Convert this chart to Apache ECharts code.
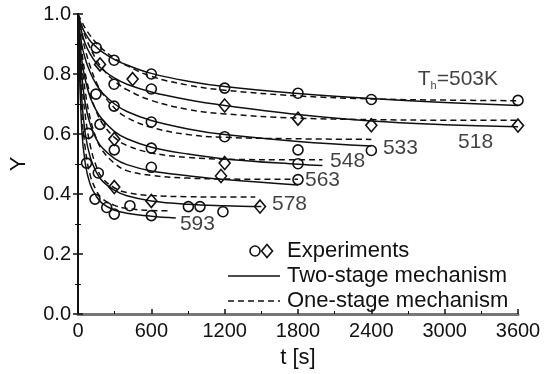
<!DOCTYPE html>
<html>
<head>
<meta charset="utf-8">
<script src="https://cdn.jsdelivr.net/npm/echarts@6/dist/echarts.min.js"></script>
<style>
  html, body { margin: 0; background: #fff; }
  #chart { width: 545px; height: 374px; }
</style>
</head>
<body>
<div id="chart"></div>
<script>
// temperatures (K) of the curves
const temps = ['503', '518', '533', '548', '563', '578', '593'];

// two-stage mechanism (solid), [t s, Y]
const two503 = [[0,1],[30,0.96],[60,0.935],[100,0.91],[150,0.89],[200,0.873],[300,0.848],[400,0.83],[600,0.802],[900,0.776],[1200,0.758],[1800,0.735],[2400,0.718],[3000,0.705],[3600,0.695]];
const two518 = [[0,1],[30,0.94],[60,0.9],[100,0.866],[150,0.836],[200,0.815],[300,0.786],[400,0.766],[600,0.74],[900,0.714],[1200,0.695],[1800,0.665],[2400,0.643],[3000,0.631],[3600,0.624]];
const two533 = [[0,1],[30,0.9],[60,0.85],[100,0.805],[150,0.765],[200,0.737],[300,0.7],[400,0.675],[600,0.645],[900,0.617],[1200,0.598],[1800,0.575],[2400,0.56]];
const two548 = [[0,1],[30,0.85],[60,0.78],[100,0.722],[150,0.678],[200,0.648],[300,0.608],[400,0.584],[600,0.556],[900,0.533],[1200,0.517],[1800,0.499],[2000,0.495]];
const two563 = [[0,1],[30,0.8],[60,0.7],[100,0.632],[150,0.583],[200,0.553],[300,0.518],[400,0.498],[600,0.477],[900,0.461],[1200,0.448],[1800,0.43]];
const two578 = [[0,1],[30,0.72],[60,0.6],[100,0.523],[150,0.473],[200,0.443],[300,0.412],[400,0.394],[600,0.377],[900,0.366],[1200,0.361],[1500,0.358]];
const two593 = [[0,1],[30,0.62],[60,0.5],[100,0.432],[150,0.392],[200,0.368],[300,0.346],[400,0.336],[600,0.326],[800,0.32]];

// one-stage mechanism (dashed)
const one503 = [[0,1],[30,0.975],[60,0.952],[100,0.928],[150,0.903],[200,0.883],[300,0.852],[400,0.828],[600,0.792],[900,0.763],[1200,0.746],[1800,0.727],[2400,0.717],[3000,0.713],[3600,0.711]];
const one518 = [[0,1],[30,0.96],[60,0.925],[100,0.887],[150,0.848],[200,0.818],[300,0.776],[400,0.748],[600,0.712],[900,0.682],[1200,0.667],[1800,0.653],[2400,0.648],[3000,0.646],[3600,0.646]];
const one533 = [[0,1],[30,0.93],[60,0.88],[100,0.825],[150,0.772],[200,0.735],[300,0.686],[400,0.655],[600,0.622],[900,0.598],[1200,0.589],[1800,0.584],[2400,0.582]];
const one548 = [[0,1],[30,0.88],[60,0.8],[100,0.733],[150,0.675],[200,0.635],[300,0.588],[400,0.562],[600,0.537],[900,0.522],[1200,0.516],[1800,0.514],[2000,0.514]];
const one563 = [[0,1],[30,0.84],[60,0.74],[100,0.652],[150,0.585],[200,0.545],[300,0.502],[400,0.478],[600,0.462],[900,0.453],[1200,0.45],[1800,0.449]];
const one578 = [[0,1],[30,0.78],[60,0.66],[100,0.562],[150,0.492],[200,0.453],[300,0.42],[400,0.405],[600,0.395],[900,0.391],[1200,0.39],[1450,0.39]];
const one593 = [[0,1],[30,0.68],[60,0.55],[100,0.462],[150,0.412],[200,0.384],[300,0.362],[400,0.352],[600,0.345],[750,0.344]];

// experiments
const expCircles = [
  [150,0.887],[295,0.846],[600,0.8],[1200,0.753],[1800,0.736],[2400,0.715],[3600,0.712],
  [295,0.766],[600,0.75],
  [147,0.733],[295,0.693],[600,0.64],[1200,0.591],[1800,0.547],[2400,0.545],
  [84,0.602],[180,0.632],[297,0.547],[600,0.553],[1800,0.501],
  [70,0.503],[166,0.47],[600,0.489],[1800,0.448],
  [139,0.383],[235,0.355],[297,0.333],[425,0.361],[600,0.328],[903,0.358],[998,0.358],[1186,0.341]
];
const expDiamonds = [
  [180,0.832],[447,0.783],[1200,0.695],[1800,0.651],[2400,0.629],[3600,0.628],
  [297,0.583],[1200,0.503],[1170,0.46],
  [297,0.423],[600,0.377],[1489,0.358]
];

// where the temperature labels sit, [t, Y]
const labelAnchors = [[2780,0.783],[3110,0.574],[2495,0.553],[2062,0.51],[1857,0.447],[1587,0.365],[834,0.299]];

const twoStage = [two503, two518, two533, two548, two563, two578, two593];
const oneStage = [one503, one518, one533, one548, one563, one578, one593];

const FONT = '"Liberation Sans", Arial, sans-serif';
const INK = '#111';

const chart = echarts.init(document.getElementById('chart'));

const series = [];
twoStage.forEach((d, i) => {
  series.push({
    name: 'Two-stage ' + temps[i], type: 'line', data: d, smooth: 0.4,
    showSymbol: false, lineStyle: { color: INK, width: 1.5 }, z: 3
  });
});
oneStage.forEach((d, i) => {
  series.push({
    name: 'One-stage ' + temps[i], type: 'line', data: d, smooth: 0.4,
    showSymbol: false, lineStyle: { color: INK, width: 1.5, type: [6, 4] }, z: 3
  });
});
const markerStyle = { color: 'rgba(255,255,255,0)', borderColor: INK, borderWidth: 1.6, opacity: 1 };
series.push({
  name: 'Experiments o', type: 'scatter', data: expCircles, symbol: 'circle', symbolSize: 10,
  itemStyle: markerStyle, z: 4
});
series.push({
  name: 'Experiments d', type: 'scatter', data: expDiamonds, symbol: 'diamond', symbolSize: [11, 13],
  itemStyle: markerStyle, z: 4
});
series.push({
  name: 'labels', type: 'scatter', symbolSize: 0, z: 5,
  data: labelAnchors.map((p, i) => ({ value: p, name: i === 0 ? 'T{s|h}=' + temps[0] + 'K' : temps[i] })),
  label: {
    show: true, position: 'inside', align: 'left', verticalAlign: 'middle',
    formatter: p => p.name, color: INK, fontFamily: FONT, fontSize: 21,
    rich: { s: { fontSize: 11, fontFamily: FONT, color: INK, padding: [14, 0, 0, 0] } }
  }
});

chart.setOption({
  animation: false,
  grid: { left: 78, top: 14, width: 440, height: 304 },
  xAxis: [{
    type: 'value', min: 0, max: 3600, interval: 600,
    name: 't [s]', nameLocation: 'middle', nameGap: 33,
    nameTextStyle: { fontFamily: FONT, fontSize: 22, color: INK },
    axisLine: { lineStyle: { color: INK, width: 2 } },
    axisTick: { inside: true, length: 5, lineStyle: { color: INK, width: 1.5 } },
    minorTick: { show: true, splitNumber: 2, length: 3, lineStyle: { color: INK } },
    axisLabel: { fontFamily: FONT, fontSize: 20, color: INK, margin: 7, formatter: v => String(v) },
    splitLine: { show: false }
  }, {
    type: 'value', min: 0, max: 3600, position: 'top',
    axisLine: { show: true, lineStyle: { color: '#777', width: 3 } },
    axisTick: { show: false }, axisLabel: { show: false }, splitLine: { show: false }
  }],
  yAxis: [{
    type: 'value', min: 0, max: 1, interval: 0.2,
    name: 'Y', nameLocation: 'middle', nameGap: 48, nameRotate: 90,
    nameTextStyle: { fontFamily: FONT, fontSize: 22, color: INK },
    axisLine: { show: true, lineStyle: { color: INK, width: 2 } },
    axisTick: { inside: true, length: 5, lineStyle: { color: INK, width: 1.5 } },
    minorTick: { show: true, splitNumber: 2, length: 3, lineStyle: { color: INK } },
    axisLabel: { fontFamily: FONT, fontSize: 20, color: INK, margin: 7, formatter: v => v.toFixed(1) },
    splitLine: { show: false }
  }, {
    type: 'value', min: 0, max: 1, interval: 0.2, position: 'right',
    axisLine: { show: true, lineStyle: { color: INK, width: 2 } },
    axisTick: { inside: true, length: 5, lineStyle: { color: INK, width: 1.5 } },
    minorTick: { show: true, splitNumber: 2, length: 3, lineStyle: { color: INK } },
    axisLabel: { show: false }, splitLine: { show: false }
  }],
  series: series,
  graphic: [
    { type: 'circle', shape: { cx: 255, cy: 251, r: 5 }, style: { fill: '#fff', stroke: INK, lineWidth: 1.6 } },
    { type: 'polygon', shape: { points: [[267, 244.5], [272.5, 251], [267, 257.5], [261.5, 251]] }, style: { fill: '#fff', stroke: INK, lineWidth: 1.6 } },
    { type: 'line', shape: { x1: 228, y1: 276, x2: 280, y2: 276 }, style: { stroke: INK, lineWidth: 1.5 } },
    { type: 'line', shape: { x1: 228, y1: 301, x2: 280, y2: 301 }, style: { stroke: INK, lineWidth: 1.5, lineDash: [6, 4] } },
    { type: 'text', x: 287, y: 251, style: { text: 'Experiments', font: '22px ' + FONT, fill: INK, verticalAlign: 'middle' } },
    { type: 'text', x: 287, y: 276, style: { text: 'Two-stage mechanism', font: '22px ' + FONT, fill: INK, verticalAlign: 'middle' } },
    { type: 'text', x: 287, y: 301, style: { text: 'One-stage mechanism', font: '22px ' + FONT, fill: INK, verticalAlign: 'middle' } }
  ]
});
</script>
</body>
</html>
